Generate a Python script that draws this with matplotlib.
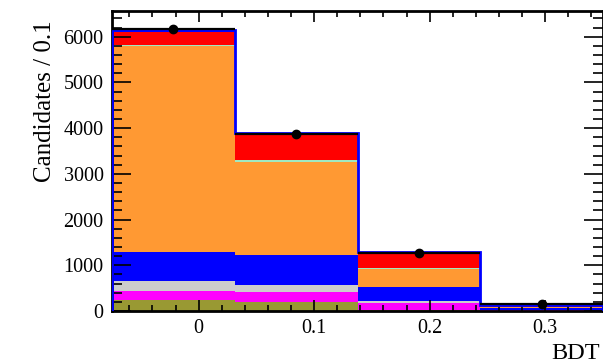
import numpy as np
import matplotlib
matplotlib.use("Agg")
import matplotlib.pyplot as plt
from matplotlib.ticker import MultipleLocator

# ---- data ----
edges = [-0.075, 0.03125, 0.1375, 0.24375, 0.35]
olive   = [230, 203, 30, 8]
magenta = [215, 219, 138, 12]
grey    = [212, 146, 50, 5]
blue    = [627, 656, 313, 45]
orange  = [4510, 2046, 380, 20]
green   = [30, 30, 20, 5]
red     = [283, 569, 330, 40]
blue2   = [40, 15, 29, 5]
data    = [6170, 3865, 1278, 145]
xticks  = [0, 0.1, 0.2, 0.3]
yticks  = [0, 1000, 2000, 3000, 4000, 5000, 6000]

components = [olive, magenta, grey, blue, orange, green, red, blue2]
colors = ['#999933', '#ff00ff', '#cccccc', '#0000ff', '#ff9933', '#a0e8c0', '#ff0000', '#0000ff']

plt.rcParams['font.family'] = ['Liberation Serif', 'DejaVu Serif']
plt.rcParams['mathtext.fontset'] = 'stix'

W, H = 603, 364
fig = plt.figure(figsize=(W / 100, H / 100), dpi=100)
ax = fig.add_axes([112 / W, 1 - 311 / H, (603 - 112) / W, 300 / H])

edges_a = np.array(edges)
bottom = np.zeros(len(data))
for comp, col in zip(components, colors):
    top = bottom + np.array(comp, dtype=float)
    ax.stairs(top, edges_a, baseline=bottom, fill=True, color=col, lw=0)
    bottom = top

ax.stairs(bottom, edges_a, baseline=0, color='#0000ff', lw=2.0, zorder=3)

centers = 0.5 * (edges_a[:-1] + edges_a[1:])
halfw = 0.5 * (edges_a[1:] - edges_a[:-1])
ax.errorbar(centers, data, xerr=halfw, yerr=np.sqrt(data), fmt='o', color='black',
            ms=6, lw=1.6, capsize=0, zorder=4)

ax.set_xlim(edges[0], edges[-1])
ax.set_ylim(0, 6564)
ax.set_xticks(xticks)
ax.set_xticklabels(['0', '0.1', '0.2', '0.3'])
ax.set_yticks(yticks)
ax.xaxis.set_minor_locator(MultipleLocator(0.02))
ax.yaxis.set_minor_locator(MultipleLocator(200))

ax.tick_params(axis='both', which='both', direction='in', top=True, right=True,
               labelsize=14.5, width=1.2)
ax.tick_params(axis='x', which='major', length=8, pad=6)
ax.tick_params(axis='x', which='minor', length=4)
ax.tick_params(axis='y', which='major', length=14, pad=6)
ax.tick_params(axis='y', which='minor', length=7)
for s in ax.spines.values():
    s.set_linewidth(2.0)

fig.text(600 / W, 1 - 359 / H, 'BDT', ha='right', va='baseline', fontsize=17.5)
fig.text(45 / W, 1 - 20 / H, 'Candidates / 0.1', ha='center', va='top',
         rotation=90, fontsize=18)

fig.savefig('out.png', dpi=100)
